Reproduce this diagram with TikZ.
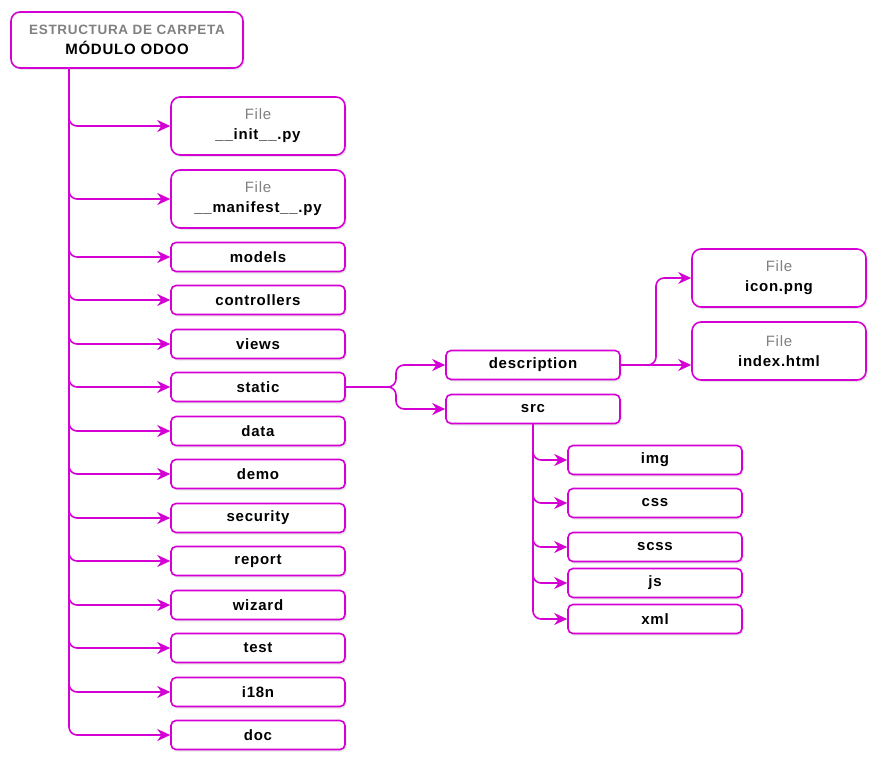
\documentclass[tikz,border=0pt]{standalone}
\usepackage{fontspec}
\setmainfont[LetterSpace=5]{Liberation Sans}
\usetikzlibrary{arrows.meta,shadows}
\definecolor{mag}{RGB}{212,0,212}
\definecolor{gristext}{RGB}{128,128,128}
\newcommand{\filetag}{{\mdseries\color{gristext}File}\\}

\begin{document}
\begin{tikzpicture}[x=1pt,y=-1pt,
  box/.style={draw=mag,line width=1.6pt,fill=white,rounded corners=5pt,
    minimum width=174pt,minimum height=29pt,inner sep=0pt,
    font=\bfseries\fontsize{15}{20}\selectfont,
    drop shadow={opacity=0.2,shadow xshift=1.5pt,shadow yshift=-2pt}},
  filebox/.style={box,minimum height=58pt,rounded corners=9pt,align=center},
  edge/.style={draw=mag,line width=1.6pt,rounded corners=8pt,-{Stealth[length=13pt,width=12pt]}}]
\useasboundingbox (0,0) rectangle (894,765);
\node[filebox, minimum width=232pt, minimum height=56pt] (0) at (127,40)
  {{\color{gristext}\fontsize{13.5}{19}\selectfont ESTRUCTURA DE CARPETA}\\MÓDULO ODOO};
\node[filebox] (1) at (258,126) {\filetag \_\_init\_\_.py};
\node[filebox] (2) at (258,199) {\filetag \_\_manifest\_\_.py};
\node[box] (3) at (258,257) {models};
\node[box] (4) at (258,300) {controllers};
\node[box] (5) at (258,344) {views};
\node[box] (6) at (258,387) {static};
\node[box] (7) at (258,431) {data};
\node[box] (8) at (258,474) {demo};
\node[box] (9) at (258,518) {security};
\node[box] (10) at (258,561) {report};
\node[box] (11) at (258,605) {wizard};
\node[box] (12) at (258,648) {test};
\node[box] (13) at (258,692) {i18n};
\node[box] (14) at (258,735) {doc};
\node[box] (15) at (533,365) {description};
\node[box] (16) at (533,409) {src};
\node[filebox] (17) at (779,278) {\filetag icon.png};
\node[filebox] (18) at (779,351) {\filetag index.html};
\node[box] (19) at (655,460) {img};
\node[box] (20) at (655,503) {css};
\node[box] (21) at (655,547) {scss};
\node[box] (22) at (655,583) {js};
\node[box] (23) at (655,619) {xml};
% trunk of the module
\coordinate (t) at (69,68);
\foreach \i in {1,...,14}
  \path[edge] (t) |- (\i.west);
% static folder
\coordinate (s) at (396,387);
\path[edge] (6.east) -- (s) |- (15.west);
\path[edge] (6.east) -- (s) |- (16.west);
% description folder
\coordinate (d) at (656,365);
\path[edge] (15.east) -- (d) |- (17.west);
\path[edge] (15.east) -- (15.east -| 18.west);
% src folder
\foreach \i in {19,...,23}
  \path[edge] (16.south) |- (\i.west);
\end{tikzpicture}
\end{document}
